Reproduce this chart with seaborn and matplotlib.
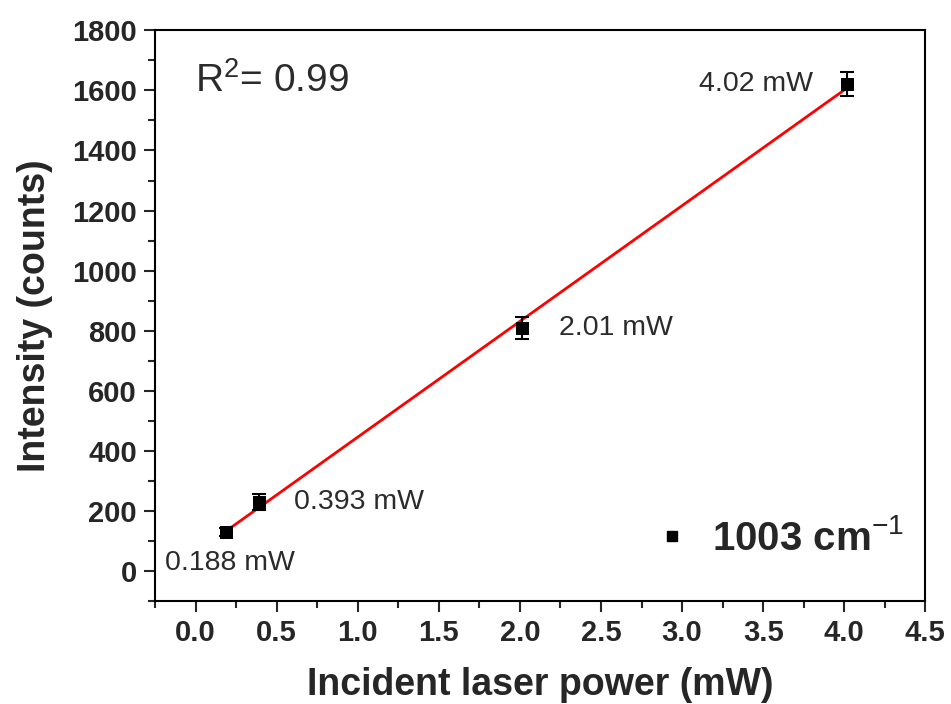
import numpy as np
import pandas as pd
import matplotlib
matplotlib.use("Agg")
import matplotlib.pyplot as plt
import seaborn as sns
from matplotlib.ticker import MultipleLocator
from matplotlib.lines import Line2D

power = [0.188, 0.393, 2.01, 4.02]
intensity = [130, 230, 810, 1620]
errors = [12, 26, 36, 40]
point_labels = ["0.188 mW", "0.393 mW", "2.01 mW", "4.02 mW"]
legend_label = "1003 cm$^{-1}$"
r2_text = "R$^2$= 0.99"

sns.set_theme(style="ticks")
plt.rcParams['font.family'] = ['Liberation Sans', 'DejaVu Sans']
plt.rcParams['mathtext.fontset'] = 'custom'
plt.rcParams['mathtext.rm'] = 'Liberation Sans'
plt.rcParams['mathtext.bf'] = 'Liberation Sans:bold'

fig = plt.figure(figsize=(9.51, 7.04), dpi=100)
ax = fig.add_axes([0.163, 0.146, 0.810, 0.811])

df = pd.DataFrame({"power": power, "intensity": intensity})
slope, intercept = np.polyfit(power, intensity, 1)
fit_df = pd.DataFrame({"power": [min(power), max(power)]})
fit_df["fit"] = slope * fit_df["power"] + intercept

sns.lineplot(data=fit_df, x="power", y="fit", color="red", lw=2, ax=ax, zorder=2)
ax.errorbar(power, intensity, yerr=errors, fmt="none", ecolor="black",
            elinewidth=1.5, capsize=5, capthick=1.5, zorder=3)
sns.scatterplot(data=df, x="power", y="intensity", marker="s", s=80,
                color="black", edgecolor="black", ax=ax, zorder=4)

offsets = [(-44, -22, "left"), (25, 0, "left"), (27, 0, "left"), (-25, 0, "right")]
for x, y, lab, (dx, dy, ha) in zip(power, intensity, point_labels, offsets):
    ax.annotate(lab, (x, y), xytext=(dx, dy), textcoords="offset points",
                ha=ha, va="center", fontsize=20.5, color="#2b2b2b")

ax.text(0.052, 0.912, r2_text, transform=ax.transAxes, fontsize=28,
        va="center", ha="left", color="#2b2b2b")

ax.set_xlim(-0.25, 4.5)
ax.set_ylim(-100, 1800)
ax.xaxis.set_major_locator(MultipleLocator(0.5))
ax.xaxis.set_minor_locator(MultipleLocator(0.25))
ax.yaxis.set_major_locator(MultipleLocator(200))
ax.yaxis.set_minor_locator(MultipleLocator(100))
ax.set_xticks(np.arange(0, 4.51, 0.5))
ax.set_xticklabels([f"{v:.1f}" for v in np.arange(0, 4.51, 0.5)])

ax.tick_params(axis="both", which="major", direction="out", length=8, width=1.5,
               labelsize=21, pad=5)
ax.tick_params(axis="both", which="minor", direction="out", length=5, width=1.5)
for lab in ax.get_xticklabels() + ax.get_yticklabels():
    lab.set_fontweight("bold")
for sp in ax.spines.values():
    sp.set_visible(True)
    sp.set_linewidth(1.5)
    sp.set_color("black")

ax.set_xlabel("Incident laser power (mW)", fontsize=27, fontweight="bold", labelpad=14)
ax.set_ylabel("Intensity (counts)", fontsize=27, fontweight="bold", labelpad=14)

handle = Line2D([], [], marker="s", color="black", linestyle="none", markersize=7)
leg = ax.legend([handle], [legend_label], loc="lower right", frameon=False,
                prop={"size": 29, "weight": "bold"}, handletextpad=0.5,
                handlelength=1.0, bbox_to_anchor=(1.02, 0.012))

fig.savefig("out.png", dpi=100)
